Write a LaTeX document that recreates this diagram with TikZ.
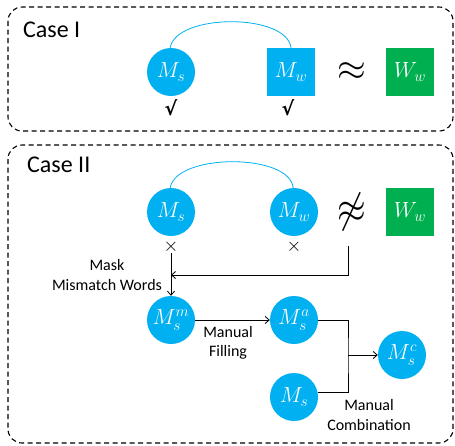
\RequirePackage{fix-cm}
\documentclass[tikz,border=0pt]{standalone}
\usepackage{fontspec}
\setmainfont{Carlito}
\newfontfamily\djv{DejaVu Sans}
\usetikzlibrary{arrows.meta}
\definecolor{cy}{RGB}{0,176,240}
\definecolor{gr}{RGB}{0,176,80}
\begin{document}
\begin{tikzpicture}[x=1pt,y=-1pt,
  caseframe/.style={draw, dash pattern=on 5pt off 3.5pt, line width=1.1pt, rounded corners=14pt},
  mfont/.style={text=white, font=\fontsize{22}{22}\selectfont},
  cnode/.style={circle, fill=cy, minimum size=48pt, inner sep=0pt, mfont},
  snode/.style={rectangle, fill=cy, minimum size=48pt, inner sep=0pt, mfont},
  gnode/.style={rectangle, fill=gr, minimum size=48pt, inner sep=0pt, mfont},
  title/.style={anchor=base west, inner sep=0pt, font=\fontsize{24}{26}\selectfont},
  lbl/.style={align=center, inner sep=0pt, font=\fontsize{16}{19.5}\selectfont},
  rel/.style={inner sep=0pt, font=\fontsize{20}{20}\selectfont},
  sym/.style={inner sep=0pt},
  arc/.style={draw=cy, line width=0.8pt},
  conn/.style={draw, line width=0.8pt},
  arr/.style={conn, -{Straight Barb[length=4pt,width=7pt]}}
]
\useasboundingbox (0,0) rectangle (455,445);
% frames
\draw[caseframe] (8,7) rectangle (453,131);
\draw[caseframe] (8,145) rectangle (453,443);
\node[title] (t1) at (23,37) {Case I};
\node[title] (t2) at (27,172) {Case II};
% Case I
\node[cnode] (Ms1) at (171,72) {$M_s$};
\node[snode] (Mw1) at (291,72) {$M_w$};
\node[rel] (ap) at (352,72) {\scalebox{1.85}{$\approx$}};
\node[gnode] (Ww1) at (410,72) {$W_w$};
\draw[arc] (Ms1.92) .. controls (176,13) and (287,13) .. (Mw1.north);
\node[sym, font=\djv\bfseries\fontsize{19}{19}\selectfont] (ck1) at (171,108) {√};
\node[sym, font=\djv\bfseries\fontsize{19}{19}\selectfont] (ck2) at (288,108) {√};
% Case II
\node[cnode] (Ms2) at (171,212) {$M_s$};
\node[cnode] (Mw2) at (294,212) {$M_w$};
\node[rel] (nap) at (352,212) {\scalebox{1.85}[2.1]{$\not\approx$}};
\node[gnode] (Ww2) at (410,212) {$W_w$};
\draw[arc] (Ms2.92) .. controls (176,153) and (290,153) .. (Mw2.92);
\node[sym, font=\fontsize{19}{19}\selectfont] (x1) at (171,247) {$\times$};
\node[sym, font=\fontsize{19}{19}\selectfont] (x2) at (294,247) {$\times$};
\coordinate (ne) at (348,246);
\coordinate (mj) at (171,275);
\coordinate (xs) at (171,253);
\node[cnode] (Msm) at (171,320) {$M_s^m$};
\node[cnode] (Msa) at (294,320) {$M_s^a$};
\node[cnode] (Ms3) at (294,397) {$M_s$};
\node[cnode] (Msc) at (402,355) {$M_s^c$};
\draw[arr] (ne) |- (mj);
\draw[arr] (xs) -- (Msm);
\node[lbl] (mask) at (107,275) {Mask\\Mismatch Words};
\draw[arr] (Msm) -- (Msa);
\node[lbl] (fill) at (228,343) {Manual\\Filling};
\coordinate (jn) at (348,355);
\draw[conn] (Msa.east) -| (jn) |- (Ms3.12);
\draw[arr] (jn) -- (Msc);
\node[lbl] (comb) at (369,415) {Manual\\Combination};
\end{tikzpicture}
\end{document}
